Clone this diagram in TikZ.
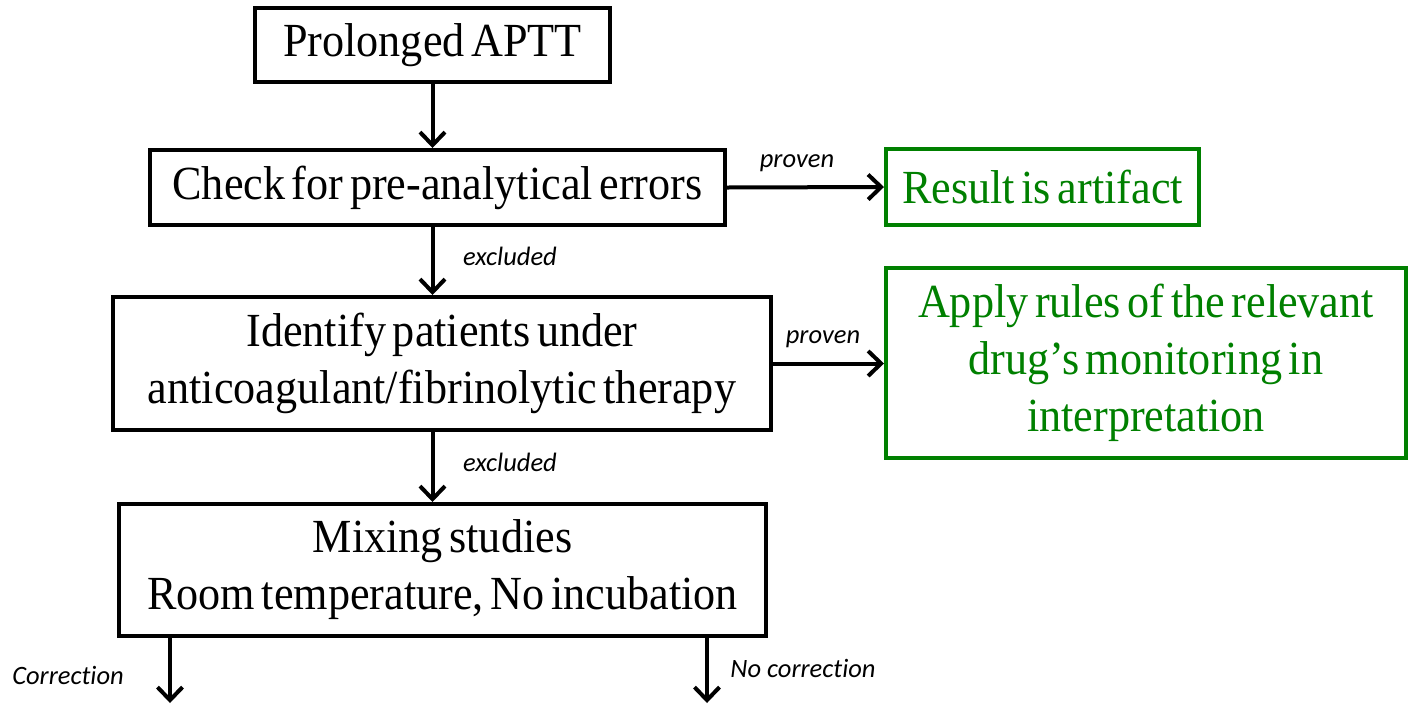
\documentclass[tikz,border=0pt]{standalone}
\usepackage{fontspec}
\setmainfont{Liberation Serif}[FakeStretch=0.93,WordSpace=0.6]
\newfontfamily\labelfont{Carlito}[Ligatures=NoCommon]
\usetikzlibrary{arrows.meta}
\definecolor{okgreen}{RGB}{0,128,0}
\begin{document}
\begin{tikzpicture}[x=1pt,y=-1pt,
  box/.style={draw=black,line width=4pt,align=center,inner sep=0pt,
    font=\fontsize{47.5}{57}\selectfont,text=black},
  greenbox/.style={box,draw=okgreen,text=okgreen},
  conn/.style={line width=4pt,-{Straight Barb[length=13pt,width=25pt]}},
  lbl/.style={font=\labelfont\itshape\fontsize{26.5}{30}\selectfont,inner sep=0pt}]
\useasboundingbox (0,0) rectangle (1416,705);
\node[box,minimum width=355pt,minimum height=74pt] (b1) at (432.5,45) {Prolonged APTT};
\node[box,minimum width=575pt,minimum height=75pt] (b2) at (437.5,187.5) {Check for pre-analytical errors};
\node[box,minimum width=658pt,minimum height=133pt] (b3) at (442,363.5) {Identify patients under\\anticoagulant/fibrinolytic therapy};
\node[box,minimum width=647pt,minimum height=132pt] (b4) at (442.5,570) {Mixing studies\\Room temperature, No incubation};
\node[greenbox,minimum width=313pt,minimum height=76pt] (g1) at (1042.5,187) {Result is artifact};
\node[greenbox,minimum width=520pt,minimum height=190pt] (g2) at (1146,363) {Apply rules of the relevant\\drug's monitoring in\\interpretation};
\coordinate (c1) at (170,703);
\coordinate (c2) at (707,703);
\draw[conn] (b1.south) -- (b1.south |- b2.north);
\draw[conn] (b1.south |- b2.south) -- (b1.south |- b3.north);
\draw[conn] (b1.south |- b3.south) -- (b1.south |- b4.north);
\draw[conn] (b2.east) -- (g1.west);
\draw[conn] (b3.east) -- (b3.east -| g2.west);
\draw[conn] (b4.south -| c1) -- (c1);
\draw[conn] (b4.south -| c2) -- (c2);
\node[lbl] (l1) at (797,163) {proven};
\node[lbl] (l2) at (510,256) {excluded};
\node[lbl] (l3) at (823,339) {proven};
\node[lbl] (l4) at (510,462) {excluded};
\node[lbl] (l5) at (68,675) {Correction};
\node[lbl] (l6) at (803,668) {No correction};
\end{tikzpicture}
\end{document}
